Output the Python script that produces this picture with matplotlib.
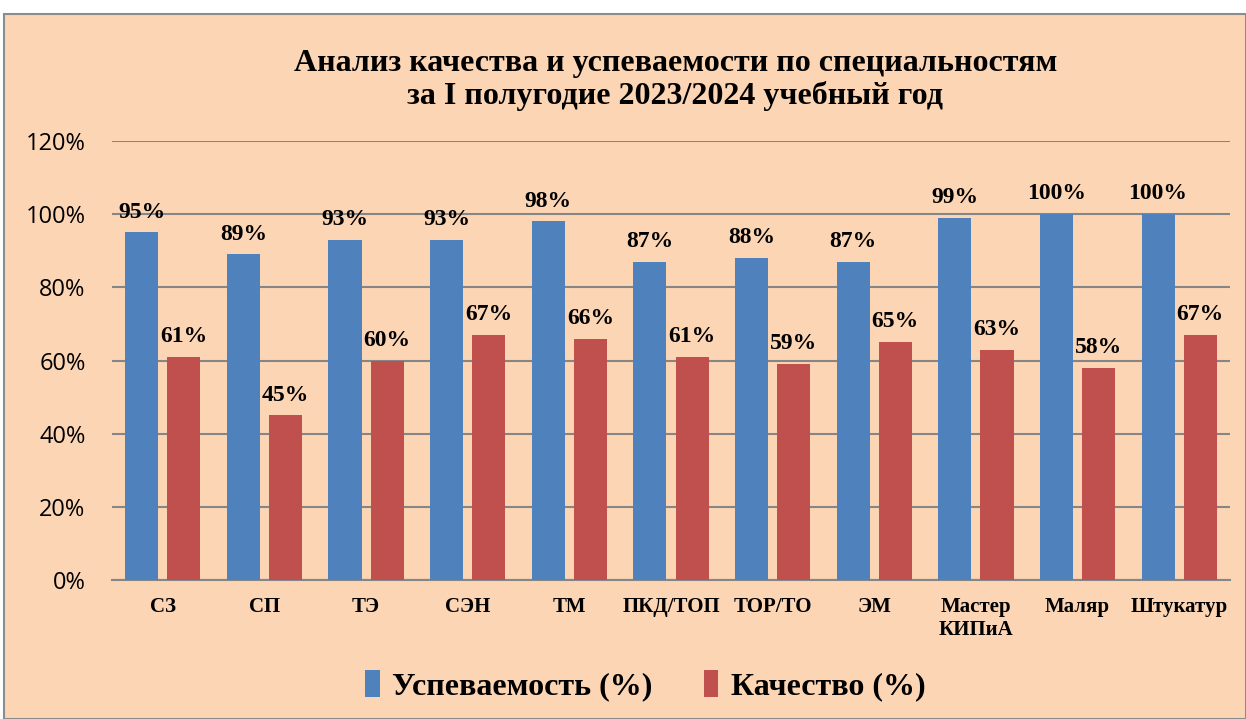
import matplotlib.pyplot as plt
import numpy as np
from matplotlib.patches import Rectangle

categories = ["СЗ", "СП", "ТЭ", "СЭН", "ТМ", "ПКД/ТОП", "ТОР/ТО", "ЭМ",
              "Мастер\nКИПиА", "Маляр", "Штукатур"]
uspevaemost = [95, 89, 93, 93, 98, 87, 88, 87, 99, 100, 100]
kachestvo = [61, 45, 60, 67, 66, 61, 59, 65, 63, 58, 67]

peach = "#FCD5B5"
blue = "#4F81BD"
red = "#C0504D"
serif = "Liberation Serif"

fig = plt.figure(figsize=(12.46, 7.19), dpi=100)
fig.patch.set_facecolor("white")
# chart box
fig.patches.append(Rectangle((4 / 1246, 0), 1 - 4 / 1246, 1 - 14 / 719,
                             transform=fig.transFigure, facecolor=peach,
                             edgecolor="#8c8c8c", linewidth=1.5, zorder=-1))

ax = fig.add_axes([112 / 1246, 1 - 580 / 719, (1230 - 112) / 1246, (580 - 141) / 719])
ax.set_zorder(2)
ax.set_facecolor("none")

x = np.arange(len(categories))
w = 0.325
gap = 0.09
b1 = ax.bar(x - w / 2 - gap / 2, uspevaemost, w, color=blue, zorder=3, label="Успеваемость (%)")
b2 = ax.bar(x + w / 2 + gap / 2, kachestvo, w, color=red, zorder=3, label="Качество (%)")

for bars in (b1, b2):
    for r in bars:
        ax.annotate(f"{int(r.get_height())}%", (r.get_x() + r.get_width() / 2, r.get_height()),
                    xytext=(0, 7), textcoords="offset points", ha="center", va="bottom",
                    fontsize=17, fontweight="bold", family=serif, zorder=4)

ax.set_xlim(-0.5, len(categories) - 0.5)
ax.set_ylim(0, 120)
ax.set_yticks(range(0, 121, 20))
ax.set_yticklabels([f"{v}%" for v in range(0, 121, 20)], fontsize=17, family="Open Sans")
ax.set_xticks(x)
ax.set_xticklabels(categories, fontsize=15, fontweight="bold", family=serif, va="top")
ax.tick_params(axis="x", length=0, pad=12)
ax.tick_params(axis="y", length=0, pad=19)
ax.grid(axis="y", color="#868686", linewidth=1.5, zorder=0)
for s in ["top", "right", "left"]:
    ax.spines[s].set_visible(False)
ax.spines["bottom"].set_color("#868686")
ax.spines["bottom"].set_linewidth(1.5)

fig.text(0.542, 1 - 80 / 719, "Анализ качества и успеваемости по специальностям\nза I полугодие 2023/2024 учебный год",
         ha="center", va="center", fontsize=23, fontweight="bold", family=serif, linespacing=1.1)

fig.legend(loc="center", bbox_to_anchor=(0.518, 1 - 686 / 719), ncol=2, frameon=False,
           prop={"family": serif, "weight": "bold", "size": 23},
           handlelength=0.45, handleheight=0.9, handletextpad=0.4, columnspacing=1.6)

fig.savefig("out.png", dpi=100)
